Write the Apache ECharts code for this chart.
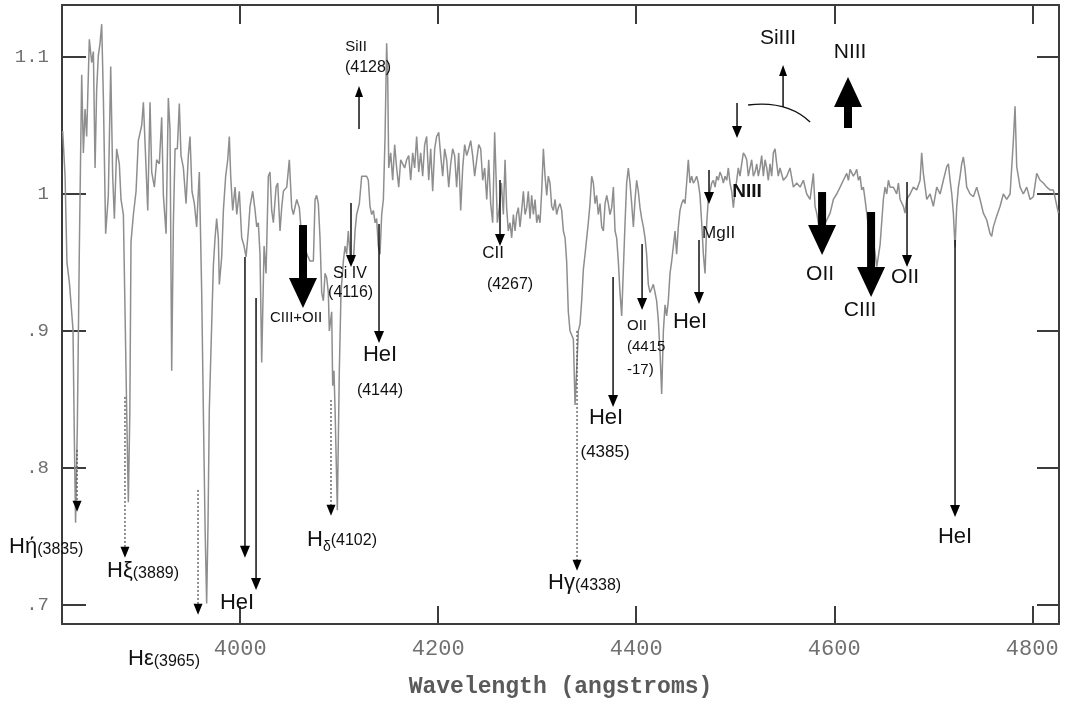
<!DOCTYPE html>
<html><head><meta charset="utf-8">
<script src="https://cdn.jsdelivr.net/npm/echarts@6/dist/echarts.min.js"></script>
<style>html,body{margin:0;padding:0;background:#fff}#c{width:1067px;height:705px}</style>
</head><body><div id="c"></div>
<script>
// ---- spectrum (wavelength in angstroms, normalised flux) ----
const wavelengths = [
3820.7,3823.1,3825.0,3827.5,3831.1,3832.5,3833.7,3835.5,3837.5,3839.9,3841.6,3843.3,3844.9,3847.6,3850.0,3851.7,3853.4,3855.0,3856.7,3858.4,
3860.1,3861.8,3864.1,3866.8,3869.2,3871.2,3872.9,3875.2,3877.9,3879.6,3882.0,3884.0,3885.3,3887.0,3888.5,3889.7,3892.1,3894.8,3897.1,3900.5,
3902.2,3904.9,3906.6,3908.9,3910.6,3913.3,3915.6,3918.3,3920.7,3922.4,3925.1,3927.4,3929.1,3930.8,3932.5,3934.2,3936.5,3938.5,3940.2,3942.6,
3945.3,3947.6,3949.3,3951.3,3953.7,3956.0,3958.7,3961.1,3963.0,3964.5,3966.1,3967.5,3968.8,3971.2,3972.9,3974.6,3976.2,3977.9,3978.9,3981.3,
3983.0,3985.3,3987.4,3989.0,3990.4,3992.4,3994.8,3996.5,3999.1,4001.5,4003.9,4005.9,4008.2,4009.9,4012.6,4015.0,4016.7,4018.3,4020.0,4021.7,
4024.1,4026.1,4028.4,4030.1,4031.8,4033.5,4036.2,4037.9,4040.2,4041.9,4043.6,4047.0,4049.6,4052.0,4053.7,4057.1,4059.7,4062.1,4065.5,4068.0,
4070.5,4073.9,4075.6,4077.2,4078.9,4080.6,4082.3,4084.0,4085.7,4087.3,4089.0,4090.0,4092.4,4093.4,4094.7,4095.8,4098.1,4100.1,4101.8,4104.2,
4105.9,4107.5,4109.2,4110.9,4114.3,4116.0,4117.6,4120.3,4122.7,4124.4,4127.7,4129.4,4131.1,4132.8,4134.5,4136.2,4137.8,4139.5,4141.2,4142.9,
4144.6,4146.3,4147.9,4149.0,4150.0,4152.0,4154.0,4156.0,4158.0,4160.1,4162.1,4164.1,4166.1,4168.1,4170.2,4172.2,4174.2,4176.2,4178.2,4180.3,
4182.3,4184.3,4186.3,4188.3,4190.4,4192.4,4194.4,4196.4,4198.4,4200.5,4202.5,4204.5,4206.5,4208.5,4210.6,4212.6,4214.6,4216.6,4218.6,4220.7,
4222.7,4224.7,4226.7,4228.8,4230.8,4232.8,4234.8,4236.8,4238.9,4240.9,4242.9,4244.9,4246.9,4249.0,4251.0,4253.0,4255.0,4257.0,4258.4,4259.7,
4261.7,4263.8,4265.8,4267.5,4269.1,4270.8,4272.5,4274.2,4275.9,4277.6,4279.2,4280.9,4282.6,4284.3,4286.0,4287.7,4289.4,4291.0,4292.7,4294.4,
4296.1,4297.8,4299.5,4301.1,4302.8,4304.5,4306.2,4307.9,4309.6,4311.2,4312.9,4314.6,4316.3,4318.0,4319.6,4321.3,4323.0,4324.7,4326.4,4328.1,
4329.7,4331.4,4333.1,4334.8,4336.5,4338.2,4339.8,4341.5,4343.2,4344.9,4346.6,4348.3,4350.0,4351.6,4353.3,4355.0,4356.7,4358.4,4360.0,4361.7,
4363.4,4365.1,4366.8,4368.5,4370.2,4371.8,4373.5,4375.2,4376.9,4378.6,4380.2,4381.9,4383.6,4385.3,4387.0,4388.7,4390.3,4392.0,4393.7,4395.4,
4397.1,4398.8,4400.4,4402.1,4403.8,4405.5,4407.2,4408.9,4410.5,4412.2,4413.9,4415.6,4417.3,4419.0,4420.6,4422.3,4424.0,4425.7,4427.4,4429.1,
4430.7,4432.4,4434.1,4435.8,4437.5,4439.2,4440.8,4442.5,4444.2,4445.9,4447.6,4449.3,4450.9,4452.6,4454.3,4456.0,4457.7,4459.4,4461.0,4462.7,
4464.4,4466.1,4467.8,4469.5,4471.2,4472.8,4474.5,4476.2,4477.9,4479.6,4481.3,4482.9,4484.6,4486.3,4488.0,4489.7,4491.4,4493.0,4494.7,4496.4,
4498.1,4499.8,4501.5,4503.1,4504.8,4506.5,4508.2,4509.9,4511.6,4513.2,4514.9,4516.6,4518.3,4520.0,4521.7,4523.3,4525.0,4526.7,4528.4,4530.1,
4531.8,4533.4,4535.1,4536.8,4538.5,4540.2,4541.9,4543.5,4545.2,4548.6,4552.0,4555.3,4558.7,4562.1,4565.5,4568.8,4572.2,4575.6,4578.9,4580.6,
4582.3,4585.7,4589.0,4592.4,4595.8,4599.1,4602.5,4605.9,4609.2,4612.6,4614.3,4616.0,4619.3,4621.0,4622.7,4624.4,4626.1,4627.7,4629.4,4631.1,
4632.8,4634.5,4637.8,4639.5,4643.0,4646.3,4649.6,4651.3,4653.0,4654.7,4656.4,4659.7,4663.1,4664.8,4666.5,4669.8,4671.5,4673.2,4676.6,4679.9,
4683.3,4686.7,4688.3,4690.0,4693.4,4696.8,4700.1,4703.5,4706.9,4710.2,4713.6,4715.3,4717.0,4718.7,4720.3,4722.0,4723.7,4725.4,4727.1,4728.7,
4730.4,4732.1,4733.8,4737.2,4740.5,4743.9,4747.3,4750.6,4754.0,4757.4,4759.0,4760.7,4764.1,4767.5,4770.8,4774.2,4777.6,4780.9,4782.6,4784.3,
4787.7,4791.0,4794.4,4797.8,4801.1,4804.5,4807.9,4811.2,4814.6,4818.0,4821.3,4826.4
];
const flux = [
1.046,1.013,0.950,0.935,0.901,0.820,0.760,0.831,0.959,1.087,1.030,1.062,1.042,1.113,1.096,1.104,1.019,1.076,1.101,1.110,
1.124,1.070,0.971,0.999,1.093,1.013,0.982,1.033,1.022,0.996,0.985,0.900,0.843,0.775,0.840,0.965,0.985,1.002,1.039,1.050,
1.067,1.019,0.988,1.067,1.016,1.005,1.025,1.022,1.056,0.999,0.971,1.070,1.047,0.871,0.979,1.033,1.033,1.066,1.028,1.019,
0.993,1.028,1.042,1.002,0.993,0.976,1.016,0.928,0.830,0.757,0.701,0.760,0.843,0.905,0.948,0.968,0.982,0.968,0.934,0.954,
0.988,1.013,1.025,1.042,1.013,0.988,1.005,0.985,1.002,0.968,0.962,0.954,0.973,0.991,1.002,0.988,0.976,0.979,0.956,0.877,
0.962,0.942,1.013,1.016,0.988,0.979,1.005,1.008,0.973,0.990,1.002,1.005,1.025,0.990,0.985,0.996,0.990,0.968,0.960,0.955,
0.951,0.951,0.996,0.999,0.993,0.968,0.928,0.922,0.942,0.939,0.928,0.900,0.914,0.860,0.871,0.843,0.769,0.871,0.928,0.951,
0.962,0.956,0.973,0.956,0.951,0.973,0.985,0.993,1.013,1.013,1.013,1.010,0.991,0.985,0.988,0.979,0.982,0.962,0.956,0.985,
0.996,1.042,1.110,1.084,1.019,1.030,1.010,1.036,1.019,1.005,1.025,1.022,1.019,1.025,1.028,1.010,1.030,1.019,1.042,1.016,
1.030,1.013,1.036,1.042,1.010,1.033,1.002,1.033,1.042,1.045,1.028,1.013,1.033,1.025,1.005,1.022,1.033,1.028,1.005,1.030,
0.988,1.019,1.036,1.028,1.033,1.039,1.028,1.013,1.025,1.036,1.033,1.010,1.019,0.996,1.025,0.993,0.979,1.045,1.013,0.979,
0.990,1.008,0.985,1.025,0.990,0.973,0.979,0.968,0.985,0.973,0.985,0.990,0.976,0.988,1.002,0.985,0.990,1.002,0.982,0.999,
0.985,0.996,0.979,0.985,0.979,1.002,1.033,1.013,0.999,1.013,1.008,0.991,0.988,0.996,0.985,0.990,0.993,0.988,0.973,0.968,
0.951,0.914,0.900,0.897,0.894,0.846,0.871,0.900,0.905,0.922,0.945,0.956,0.968,0.979,0.993,1.013,1.008,0.993,0.999,0.985,
0.993,0.976,0.973,0.993,0.999,0.993,0.985,0.990,1.005,0.973,0.968,0.951,0.928,0.911,0.945,0.979,1.008,1.019,1.008,0.993,
0.976,0.996,1.010,1.002,0.990,0.982,0.976,0.968,0.956,0.934,0.928,0.931,0.934,0.928,0.922,0.908,0.885,0.854,0.900,0.919,
0.911,0.922,0.942,0.951,0.962,0.973,0.956,0.976,0.988,0.993,0.996,0.993,1.008,1.025,1.008,1.013,1.008,1.010,1.013,1.008,
0.999,0.979,0.956,0.942,0.979,0.996,1.002,1.008,1.010,1.005,1.013,1.010,1.016,1.013,1.008,1.013,1.010,1.019,1.008,1.002,
0.990,1.002,1.010,1.019,1.013,1.022,1.030,1.028,1.025,1.013,1.019,1.025,1.013,1.016,1.022,1.013,1.019,1.028,1.013,1.025,
1.019,1.010,1.022,1.013,1.030,1.033,1.022,1.013,1.019,1.010,1.013,1.019,1.005,1.008,1.005,1.010,1.000,0.996,1.015,0.991,
0.986,0.971,0.976,0.981,0.986,0.996,1.000,1.005,1.010,1.015,1.010,1.018,1.013,1.015,1.018,1.010,1.013,1.003,1.005,0.996,
0.986,0.976,0.968,0.966,0.947,0.963,0.996,1.005,1.000,1.010,1.005,1.005,1.000,1.008,0.996,0.991,0.986,0.996,1.000,1.005,
1.003,1.010,1.030,1.015,0.996,1.000,0.991,1.005,1.000,1.010,1.020,1.022,1.010,1.000,0.986,0.961,0.991,1.005,1.013,1.022,
1.027,1.018,1.005,1.000,0.998,1.005,0.996,0.986,0.981,0.971,0.969,0.976,0.984,0.991,1.000,0.996,1.000,1.039,1.064,1.020,
1.005,1.000,1.005,0.996,0.998,1.015,1.010,1.008,1.005,1.003,1.003,0.986
];
const xTicks = [4000, 4200, 4400, 4600, 4800];
const yTicks = [0.7, 0.8, 0.9, 1.0, 1.1];
const yTickLabels = ['.7', '.8', '.9', '1', '1.1'];

// ---- line identifications (data coordinates: wavelength, flux) ----
const arrows = [
  {x: 3835.2, from: 0.8131, to: 0.7679, kind: 'dotted'},
  {x: 3883.6, from: 0.8518, to: 0.7343, kind: 'dotted'},
  {x: 3957.4, from: 0.7839, to: 0.6927, kind: 'dotted'},
  {x: 4004.8, from: 0.9540, to: 0.7343, kind: 'thin'},
  {x: 4016.0, from: 0.9241, to: 0.7109, kind: 'thin'},
  {x: 4063.4, from: 0.9766, to: 0.9168, kind: 'thick'},
  {x: 4111.9, from: 0.9934, to: 0.9467, kind: 'thin'},
  {x: 4120.0, from: 1.0474, to: 1.0788, kind: 'small'},
  {x: 4140.2, from: 0.9781, to: 0.8912, kind: 'thin'},
  {x: 4091.7, from: 0.8496, to: 0.7650, kind: 'dotted'},
  {x: 4262.4, from: 1.0102, to: 0.9620, kind: 'thin'},
  {x: 4376.6, from: 0.9394, to: 0.8445, kind: 'thin'},
  {x: 4340.2, from: 0.9000, to: 0.7248, kind: 'dotted'},
  {x: 4405.9, from: 0.9635, to: 0.9153, kind: 'thin'},
  {x: 4463.4, from: 0.9664, to: 0.9197, kind: 'thin'},
  {x: 4473.5, from: 1.0175, to: 0.9927, kind: 'thin'},
  {x: 4501.8, from: 1.0664, to: 1.0409, kind: 'thin'},
  {x: 4548.3, from: 1.0635, to: 1.0942, kind: 'small'},
  {x: 4613.9, from: 1.0489, to: 1.0854, kind: 'thick'},
  {x: 4587.7, from: 1.0007, to: 0.9555, kind: 'thick'},
  {x: 4637.2, from: 0.9861, to: 0.9248, kind: 'thick'},
  {x: 4673.5, from: 1.0088, to: 0.9467, kind: 'thin'},
  {x: 4722.0, from: 0.9664, to: 0.7642, kind: 'thin'}
];
const siiiiArc = {x0: 4513.0, y0: 1.0650, cx: 4552.3, cy: 1.0685, x1: 4575.6, y1: 1.0526};

// multi-part labels: parts = [text, fontSize, vertical offset px]
const labels = [
  {x: 3766.5, y: 0.7423, parts: [['Hή', 22, 0], ['(3835)', 16, 3]]},
  {x: 3865.5, y: 0.7248, parts: [['Hξ', 22, 0], ['(3889)', 16, 3]]},
  {x: 3886.7, y: 0.6606, parts: [['Hε', 22, 0], ['(3965)', 16, 3]]},
  {x: 4067.5, y: 0.7474, parts: [['H', 22, 0], ['δ', 14, 7], ['(4102)', 16, 1]]},
  {x: 4310.9, y: 0.7160, parts: [['Hγ', 22, 0], ['(4338)', 16, 3]]},
  {x: 3996.8, y: 0.7015, text: 'HeI', size: 22},
  {x: 4056.4, y: 0.9095, text: 'CIII+OII', size: 15},
  {x: 4110.9, y: 0.9416, text: 'Si IV', size: 16},
  {x: 4111.5, y: 0.9277, text: '(4116)', size: 16},
  {x: 4117.0, y: 1.1073, text: 'SiII', size: 15},
  {x: 4129.1, y: 1.0920, text: '(4128)', size: 16},
  {x: 4141.2, y: 0.8825, text: 'HeI', size: 22},
  {x: 4141.2, y: 0.8562, text: '(4144)', size: 16},
  {x: 4255.4, y: 0.9569, text: 'CII', size: 17},
  {x: 4272.5, y: 0.9336, text: '(4267)', size: 16},
  {x: 4369.5, y: 0.8365, text: 'HeI', size: 22},
  {x: 4368.5, y: 0.8117, text: '(4385)', size: 17},
  {x: 4390.7, y: 0.9036, text: 'OII', size: 15, align: 'left'},
  {x: 4390.7, y: 0.8883, text: '(4415', size: 15, align: 'left'},
  {x: 4390.7, y: 0.8715, text: '-17)', size: 15, align: 'left'},
  {x: 4454.3, y: 0.9066, text: 'HeI', size: 22},
  {x: 4466.5, y: 0.9715, text: 'MgII', size: 17, align: 'left'},
  {x: 4511.9, y: 1.0015, text: 'NIII', size: 19, bold: true},
  {x: 4543.2, y: 1.1139, text: 'SiIII', size: 21},
  {x: 4616.0, y: 1.1036, text: 'NIII', size: 21},
  {x: 4585.7, y: 0.9416, text: 'OII', size: 21},
  {x: 4626.1, y: 0.9153, text: 'CIII', size: 21},
  {x: 4671.5, y: 0.9394, text: 'OII', size: 21},
  {x: 4722.0, y: 0.7496, text: 'HeI', size: 22}
];

// ---- styling ----
const SANS = "'Liberation Sans', Arial, Helvetica, sans-serif";
const MONO = "'Liberation Mono', 'Courier New', monospace";
const FRAME = '#3c3c3c';
const ARROW_KINDS = {
  thin:   {lw: 1.5, headW: 10, headH: 12, color: '#111'},
  small:  {lw: 1.5, headW: 8, headH: 11, color: '#111'},
  dotted: {lw: 1.3, headW: 9, headH: 11, color: '#555', dash: [2, 2]},
  thick:  {stemW: 8, headW: 28, headH: 30}
};

const measureCtx = document.createElement('canvas').getContext('2d');
function textWidth(t, size) { measureCtx.font = size + 'px ' + SANS; return measureCtx.measureText(t).width; }

const chart = echarts.init(document.getElementById('c'), null, {renderer: 'canvas'});

function renderArrow(params, api) {
  const a = arrows[params.dataIndex];
  const k = ARROW_KINDS[a.kind];
  const p1 = api.coord([a.x, a.from]);
  const p2 = api.coord([a.x, a.to]);
  const dir = p2[1] > p1[1] ? 1 : -1;
  const baseY = p2[1] - dir * k.headH;
  const children = [];
  if (a.kind === 'thick') {
    children.push({type: 'rect', shape: {x: p1[0] - k.stemW / 2, y: Math.min(p1[1], baseY) - 1, width: k.stemW, height: Math.abs(baseY - p1[1]) + 2}, style: {fill: '#000'}});
  } else {
    children.push({type: 'line', shape: {x1: p1[0], y1: p1[1], x2: p2[0], y2: baseY + dir * 2},
      style: {stroke: k.color, lineWidth: k.lw, lineDash: k.dash || null}});
  }
  children.push({type: 'polygon', shape: {points: [[p2[0], p2[1]], [p2[0] - k.headW / 2, baseY], [p2[0] + k.headW / 2, baseY]]}, style: {fill: '#000'}});
  return {type: 'group', children: children};
}

function renderArc(params, api) {
  const a = siiiiArc;
  const p0 = api.coord([a.x0, a.y0]);
  const pc = api.coord([a.cx, a.cy]);
  const p1 = api.coord([a.x1, a.y1]);
  return {type: 'bezierCurve', shape: {x1: p0[0], y1: p0[1], cpx1: pc[0], cpy1: pc[1], x2: p1[0], y2: p1[1]},
    style: {stroke: '#111', lineWidth: 1.4, fill: null}};
}

function renderLabel(params, api) {
  const l = labels[params.dataIndex];
  const p = api.coord([l.x, l.y]);
  if (l.parts) {
    let dx = 0;
    const children = l.parts.map(function (pt) {
      const el = {type: 'text', x: dx, y: pt[2], style: {text: pt[0], fontSize: pt[1], fontFamily: SANS, fill: '#111', align: 'left', verticalAlign: 'middle'}};
      dx += textWidth(pt[0], pt[1]);
      return el;
    });
    return {type: 'group', x: p[0], y: p[1], children: children};
  }
  return {type: 'text', x: p[0], y: p[1], style: {
    text: l.text, fill: '#111', fontFamily: SANS, fontSize: l.size || 16,
    fontWeight: l.bold ? 'bold' : 'normal',
    align: l.align || 'center', verticalAlign: 'middle'
  }};
}

const baseAxis = {
  type: 'value',
  axisLine: {show: true, onZero: false, lineStyle: {color: FRAME, width: 2}},
  splitLine: {show: false}
};

const option = {
  animation: false,
  backgroundColor: '#fff',
  grid: {left: 62, right: 8, top: 5, bottom: 81, containLabel: false},
  xAxis: [
    Object.assign({}, baseAxis, {
      min: 3820, max: 4827, position: 'bottom',
      axisTick: {show: true, inside: true, length: 18, customValues: xTicks, lineStyle: {color: FRAME, width: 2}},
      axisLabel: {customValues: xTicks, margin: 14, fontFamily: MONO, fontSize: 22, color: '#707070',
        formatter: function (v) { return String(Math.round(v)); }},
      name: 'Wavelength (angstroms)', nameLocation: 'middle', nameGap: 52,
      nameTextStyle: {fontFamily: MONO, fontSize: 23, fontWeight: 'bold', color: '#5a5a5a'}
    }),
    Object.assign({}, baseAxis, {
      min: 3820, max: 4827, position: 'top',
      axisTick: {show: true, inside: true, length: 19, customValues: xTicks, lineStyle: {color: FRAME, width: 2}},
      axisLabel: {show: false}
    })
  ],
  yAxis: [
    Object.assign({}, baseAxis, {
      min: 0.686, max: 1.138, position: 'left',
      axisTick: {show: true, inside: true, length: 24, customValues: yTicks, lineStyle: {color: FRAME, width: 2}},
      axisLabel: {customValues: yTicks, margin: 13, fontFamily: MONO, fontSize: 19, color: '#707070',
        formatter: function (v) { const i = yTicks.findIndex(t => Math.abs(t - v) < 1e-6); return i >= 0 ? yTickLabels[i] : ''; }}
    }),
    Object.assign({}, baseAxis, {
      min: 0.686, max: 1.138, position: 'right',
      axisTick: {show: true, inside: true, length: 22, customValues: yTicks, lineStyle: {color: FRAME, width: 2}},
      axisLabel: {show: false}
    })
  ],
  series: [
    {
      type: 'line', xAxisIndex: 0, yAxisIndex: 0, z: 2,
      data: wavelengths.map((w, i) => [w, flux[i]]),
      showSymbol: false, symbol: 'none',
      lineStyle: {color: '#8e8e8e', width: 1.5},
      clip: true
    },
    {
      type: 'custom', xAxisIndex: 0, yAxisIndex: 0, z: 5, clip: false,
      data: arrows.map(a => [a.x, a.from, a.to]),
      encode: {x: 0, y: [1, 2]},
      renderItem: renderArrow
    },
    {
      type: 'custom', xAxisIndex: 0, yAxisIndex: 0, z: 5, clip: false,
      data: [[siiiiArc.x0, siiiiArc.y0]],
      encode: {x: 0, y: 1},
      renderItem: renderArc
    },
    {
      type: 'custom', xAxisIndex: 0, yAxisIndex: 0, z: 6, clip: false,
      data: labels.map(l => [l.x, l.y]),
      encode: {x: 0, y: 1},
      renderItem: renderLabel
    }
  ]
};
chart.setOption(option);
</script>
</body></html>
